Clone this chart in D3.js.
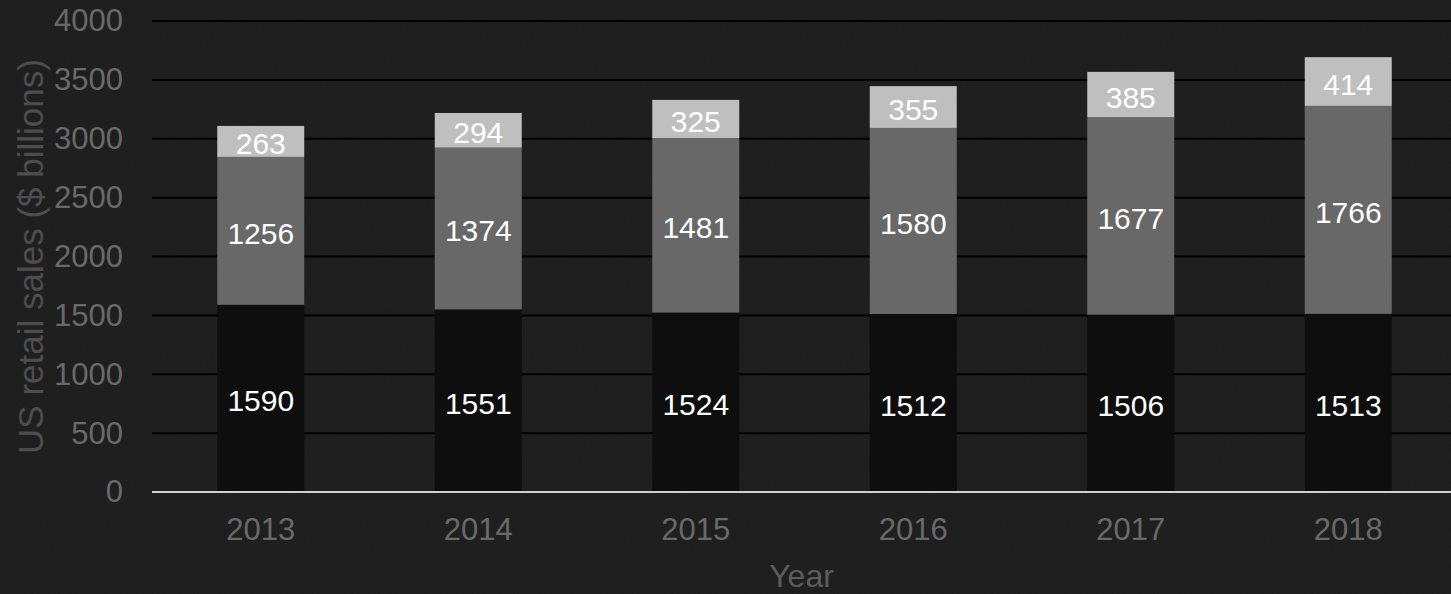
<!DOCTYPE html>
<html>
<head>
<meta charset="utf-8">
<script src="https://cdn.jsdelivr.net/npm/d3@7"></script>
<style>
  html, body { margin: 0; padding: 0; background: #1d1d1e; }
  svg { display: block; }
</style>
</head>
<body>
<div id="chart"></div>
<script>
// --- DATA ---
const years = ["2013", "2014", "2015", "2016", "2017", "2018"];
const seriesKeys = ["bottom", "middle", "top"];
const bottomValues = [1590, 1551, 1524, 1512, 1506, 1513];
const middleValues = [1256, 1374, 1481, 1580, 1677, 1766];
const topValues = [263, 294, 325, 355, 385, 414];
const yTicks = [0, 500, 1000, 1500, 2000, 2500, 3000, 3500, 4000];

const colors = { bottom: "#0e0e0e", middle: "#686868", top: "#bfbfbf" };

const width = 1451, height = 594;
const margin = { top: 21, right: 0, bottom: 102, left: 152 };
const font = "'Liberation Sans', Arial, sans-serif";

const rows = years.map((y, i) => ({
    year: y,
    bottom: bottomValues[i],
    middle: middleValues[i],
    top: topValues[i]
}));

const svg = d3.select("#chart").append("svg")
    .attr("width", width)
    .attr("height", height)
    .attr("font-family", font);

// fond façon tableau noir
const defs = svg.append("defs");
const filter = defs.append("filter").attr("id", "grain")
    .attr("x", 0).attr("y", 0).attr("width", "100%").attr("height", "100%");
filter.append("feTurbulence")
    .attr("type", "fractalNoise")
    .attr("baseFrequency", 0.8)
    .attr("numOctaves", 2)
    .attr("seed", 3);
filter.append("feColorMatrix")
    .attr("type", "matrix")
    .attr("values", "0 0 0 0 1  0 0 0 0 1  0 0 0 0 1  0 0 0 0.025 0");

svg.append("rect").attr("width", width).attr("height", height).attr("fill", "#1c1c1d");
svg.append("rect").attr("width", width).attr("height", height).attr("filter", "url(#grain)");

const x = d3.scaleBand()
    .domain(years)
    .range([margin.left, 1457])
    .paddingInner(0.6)
    .paddingOuter(0.3);

const y = d3.scaleLinear()
    .domain([0, 4000])
    .range([height - margin.bottom, margin.top]);

// grid lines
svg.append("g")
    .selectAll("line")
    .data(yTicks.filter(t => t > 0))
    .join("line")
    .attr("x1", margin.left)
    .attr("x2", width)
    .attr("y1", d => y(d))
    .attr("y2", d => y(d))
    .attr("stroke", "#000")
    .attr("stroke-width", 2);

// y axis labels
const yAxis = svg.append("g")
    .attr("transform", `translate(${margin.left},0)`)
    .call(d3.axisLeft(y).tickValues(yTicks).tickFormat(d3.format("d")).tickSize(0).tickPadding(29));
yAxis.select(".domain").remove();
yAxis.selectAll("text")
    .attr("fill", "#696969")
    .attr("font-size", 31)
    .attr("font-family", font);

// stacked bars
const stack = d3.stack().keys(seriesKeys)(rows);

const layers = svg.append("g")
    .selectAll("g")
    .data(stack)
    .join("g")
    .attr("fill", d => colors[d.key]);

layers.selectAll("rect")
    .data(d => d)
    .join("rect")
    .attr("x", d => x(d.data.year))
    .attr("width", x.bandwidth())
    .attr("y", d => y(d[1]))
    .attr("height", d => y(d[0]) - y(d[1]));

layers.selectAll("text")
    .data(d => d.map(v => ({ v, key: d.key })))
    .join("text")
    .attr("x", d => x(d.v.data.year) + x.bandwidth() / 2)
    .attr("y", d => (y(d.v[0]) + y(d.v[1])) / 2 + 13)
    .attr("text-anchor", "middle")
    .attr("fill", "#fff")
    .attr("font-size", 30)
    .text(d => d.v.data[d.key]);

// zero line
svg.append("line")
    .attr("x1", margin.left)
    .attr("x2", width)
    .attr("y1", y(0))
    .attr("y2", y(0))
    .attr("stroke", "#cfcfcf")
    .attr("stroke-width", 2);

// x axis labels
const xAxis = svg.append("g")
    .attr("transform", `translate(0,${y(0)})`)
    .call(d3.axisBottom(x).tickSize(0).tickPadding(0));
xAxis.select(".domain").remove();
xAxis.selectAll("text")
    .attr("dy", null)
    .attr("y", 48)
    .attr("fill", "#696969")
    .attr("font-size", 31)
    .attr("font-family", font);

// axis titles
svg.append("text")
    .attr("x", (margin.left + width) / 2)
    .attr("y", 587)
    .attr("text-anchor", "middle")
    .attr("fill", "#5c5c5c")
    .attr("font-size", 32)
    .text("Year");

svg.append("text")
    .attr("transform", `translate(43,${(y(0) + y(4000)) / 2}) rotate(-90)`)
    .attr("text-anchor", "middle")
    .attr("fill", "#4d4d4d")
    .attr("font-size", 35)
    .text("US retail sales ($ billions)");
</script>
</body>
</html>
